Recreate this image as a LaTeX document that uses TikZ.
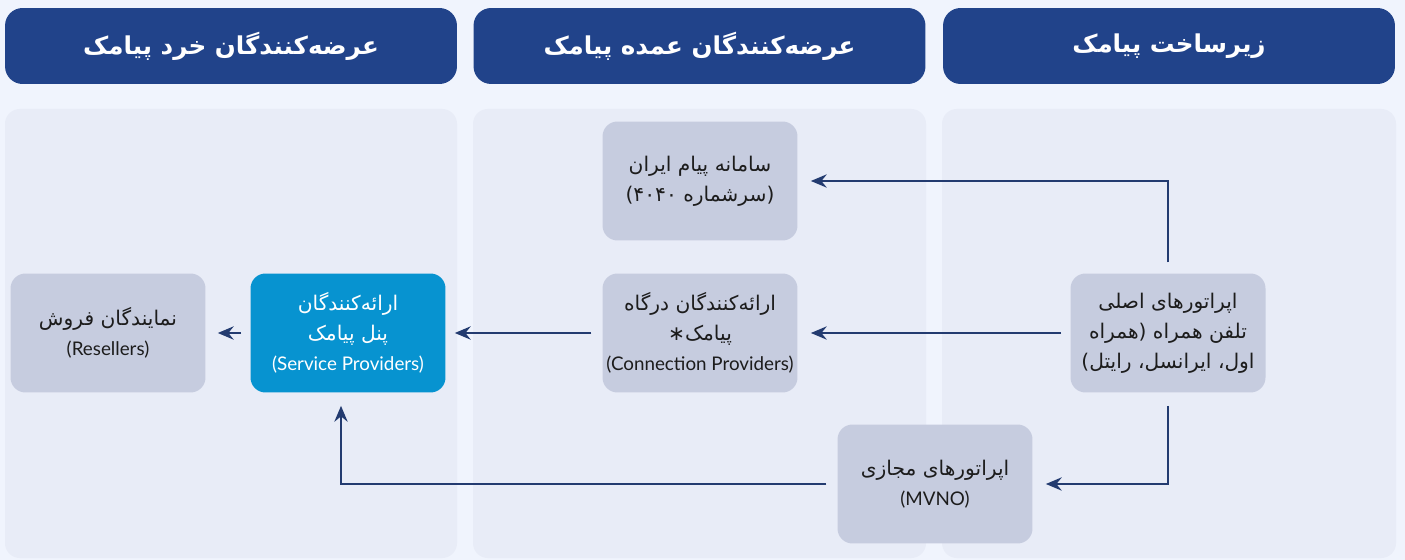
\documentclass[tikz,border=0pt]{standalone}
\usepackage{fontspec}
\setmainfont{Lato}
\newfontfamily\arabicfont[Script=Arabic]{DejaVu Sans}
\TeXXeTstate=1
\usetikzlibrary{arrows.meta}
\definecolor{bgc}{HTML}{F0F4FD}
\definecolor{panelc}{HTML}{E8ECF7}
\definecolor{headc}{HTML}{21438A}
\definecolor{grayc}{HTML}{C6CCDF}
\definecolor{bluec}{HTML}{0793D0}
\definecolor{arrc}{HTML}{233B70}
\definecolor{txtc}{HTML}{1C1C1C}
\newcommand{\falin}[1]{{\arabicfont\fontsize{11.5}{17}\selectfont\beginR #1\endR}}
\tikzset{
  headbox/.style={fill=headc, rounded corners=10pt, minimum width=9.04cm, minimum height=1.52cm,
    text=white, font=\arabicfont\bfseries\fontsize{14}{17}\selectfont, inner sep=0pt},
  graybox/.style={fill=grayc, rounded corners=8.5pt, minimum width=3.9cm, minimum height=2.38cm,
    text=txtc, align=center, font=\fontsize{10.7}{17}\selectfont, inner sep=0pt},
  bluebox/.style={graybox, fill=bluec, text=white},
  arr/.style={draw=arrc, line width=1.6pt, -{Stealth[length=9pt,width=7.5pt,inset=3pt]}}
}
\begin{document}
\begin{tikzpicture}[x=0.02cm,y=-0.02cm]
\useasboundingbox (0,0) rectangle (1405,560);
\fill[bgc] (0,0) rectangle (1405,560);
% panels
\fill[panelc, rounded corners=8.5pt] (5,109) rectangle (457,558);
\fill[panelc, rounded corners=8.5pt] (473,109) rectangle (926,558);
\fill[panelc, rounded corners=8.5pt] (942,109) rectangle (1396,558);
% headers
\node[headbox] (h1) at (231,46) {\beginR عرضه‌کنندگان خرد پیامک\endR};
\node[headbox] (h2) at (699.5,46) {\beginR عرضه‌کنندگان عمده پیامک\endR};
\node[headbox] (h3) at (1169,46) {\beginR زیرساخت پیامک\endR};
% nodes
\node[graybox] (sam) at (700,181) {\falin{سامانه پیام ایران}\\\falin{(سرشماره ۴۰۴۰)}};
\node[graybox] (conn) at (700,333) {\falin{ارائه‌کنندگان درگاه}\\\falin{پیامک∗}\\(Connection Providers)};
\node[graybox] (ops) at (1168,333) {\falin{اپراتورهای اصلی}\\\falin{تلفن همراه (همراه}\\\falin{اول، ایرانسل، رایتل)}};
\node[graybox] (mvno) at (935,484) {\falin{اپراتورهای مجازی}\\(MVNO)};
\node[graybox] (res) at (108,333) {\falin{نمایندگان فروش}\\(Resellers)};
\node[bluebox] (sp) at (348,333) {\falin{ارائه‌کنندگان}\\\falin{پنل پیامک}\\(Service Providers)};
% connectors
\draw[arr, shorten <=6.2pt, shorten >=7.4pt] (ops.north) |- (sam.east);
\draw[arr, shorten <=5.1pt, shorten >=7.4pt] (ops.west) -- (conn.east);
\draw[arr, shorten <=6.2pt, shorten >=5.1pt] (conn.west) -- (sp.east);
\draw[arr, shorten <=5.1pt, shorten >=6.8pt] (sp.west) -- (res.east);
\draw[arr, shorten <=7.4pt, shorten >=7.4pt] (ops.south) |- (mvno.east);
\draw[arr, shorten <=6.2pt, shorten >=7.4pt] (mvno.west) -| ([xshift=-0.14cm]sp.south);
\end{tikzpicture}
\end{document}
